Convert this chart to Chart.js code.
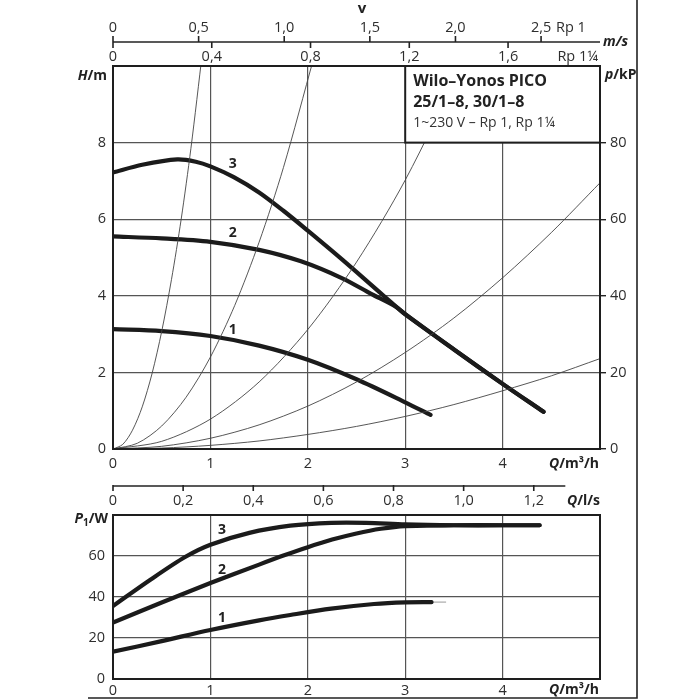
<!DOCTYPE html>
<html><head><meta charset="utf-8">
<script src="https://cdn.jsdelivr.net/npm/chart.js@4.4.1/dist/chart.umd.min.js"></script>
<style>
html,body{margin:0;padding:0;background:#fff;}
#wrap{position:relative;width:700px;height:700px;overflow:hidden;}
canvas{position:absolute;left:0;top:0;}
</style></head><body>
<div id="wrap"><canvas id="top" width="700" height="700"></canvas><canvas id="bot" width="700" height="700"></canvas></div>
<script>
// ---------- tick labels ----------
const qTicks = [0, 1, 2, 3, 4];            // Q / m3/h
const hTicks = [0, 2, 4, 6, 8];            // H / m
const pTicks = [0, 20, 40, 60, 80];        // p / kPa
const velRp1Ticks = [0, 0.5, 1.0, 1.5, 2.0, 2.5];   // v / m/s, Rp 1
const velRp114Ticks = [0, 0.4, 0.8, 1.2, 1.6];      // v / m/s, Rp 1 1/4
const qLsTicks = [0, 0.2, 0.4, 0.6, 0.8, 1.0, 1.2]; // Q / l/s
const p1Ticks = [0, 20, 40, 60];           // P1 / W

// unit conversions (m3/h per unit)
const m3hPerMsRp1 = 1.758;
const m3hPerMsRp114 = 2.535;
const m3hPerLs = 3.6;

// ---------- pump curves H(Q) ----------
const h3Q = [0, 0.3, 0.66, 0.85, 1.0, 1.24, 1.5, 1.75, 2.0, 2.36, 2.77, 3.0, 3.5, 4.0, 4.42];
const h3H = [7.22, 7.42, 7.56, 7.50, 7.38, 7.10, 6.70, 6.22, 5.70, 4.93, 4.02, 3.52, 2.60, 1.70, 0.97];
const h2Q = [0, 0.5, 1.0, 1.5, 1.93, 2.36, 2.65, 2.9, 3.0, 3.5, 4.0, 4.42];
const h2H = [5.55, 5.50, 5.41, 5.20, 4.90, 4.45, 4.05, 3.72, 3.52, 2.60, 1.70, 0.97];
const h1Q = [0, 0.5, 1.0, 1.5, 2.0, 2.5, 3.0, 3.26];
const h1H = [3.13, 3.08, 2.95, 2.70, 2.33, 1.82, 1.22, 0.89];

// ---------- system curves ----------
const sysAQ = [0, 0.1, 0.2, 0.3, 0.4, 0.5, 0.6, 0.7, 0.8, 0.92];
const sysAH = [0, 0.12, 0.49, 1.1, 1.96, 3.07, 4.42, 6.0, 7.85, 10.4];
const sysBQ = [0, 0.25, 0.5, 0.75, 1.0, 1.25, 1.5, 1.75, 2.06];
const sysBH = [0, 0.15, 0.6, 1.35, 2.4, 3.75, 5.4, 7.35, 10.2];
const sysCQ = [0, 0.5, 1, 1.5, 2, 2.5, 3, 3.6];
const sysCH = [0, 0.2, 0.78, 1.75, 3.12, 4.88, 7.02, 10.1];
const sysDQ = [0, 0.5, 1, 1.5, 2, 2.5, 3, 3.5, 4, 4.5, 5];
const sysDH = [0, 0.07, 0.28, 0.63, 1.12, 1.75, 2.52, 3.42, 4.47, 5.65, 6.95];
const sysEQ = [0, 0.5, 1, 1.5, 2, 2.5, 3, 3.5, 4, 4.5, 5];
const sysEH = [0, 0.024, 0.095, 0.21, 0.38, 0.59, 0.85, 1.16, 1.52, 1.91, 2.36];

// ---------- power curves P1(Q) ----------
const p3Q = [0, 0.38, 0.74, 1.0, 1.4, 1.82, 2.24, 2.6, 3.0, 3.5, 4.0, 4.38];
const p3P = [35.6, 48.3, 59.5, 65.5, 71.3, 74.8, 76.2, 76.2, 75.4, 75, 75, 75];
const p2Q = [0, 0.5, 1.0, 1.5, 1.75, 2.0, 2.25, 2.5, 2.75, 3.0, 3.5, 4.0, 4.38];
const p2P = [27.5, 37.3, 46.8, 55.8, 60.2, 64.3, 68.0, 71.0, 73.3, 74.6, 75, 75, 75];
const p1Q = [0, 0.5, 1.0, 1.5, 1.82, 2.24, 2.68, 3.0, 3.27];
const p1P = [13.3, 18.5, 23.9, 28.6, 31.2, 34.3, 36.6, 37.4, 37.5];
const p1ExtQ = [3.27, 3.42];
const p1ExtP = [37.5, 37.5];

// curve number labels [Q, value]
const hLabels = [['3', 1.23, 7.45], ['2', 1.23, 5.64], ['1', 1.23, 3.10]];
const pLabels = [['3', 1.12, 72.7], ['2', 1.12, 53.2], ['1', 1.12, 29.6]];

const legendLines = ['Wilo–Yonos PICO', '25/1–8, 30/1–8', '1~230 V – Rp 1, Rp 1¼'];

// ---------- helpers ----------
const FF = "'Open Sans', 'Noto Sans', sans-serif";
const TXT = '#2e2e2e';
const FS = 14.5;
const pts = (xs, ys) => xs.map((x, i) => ({x: x, y: ys[i]}));
const fmt1 = v => v === 0 ? '0' : v.toFixed(1).replace('.', ',');
function thick(data) {
  return {data, borderColor: '#1b1b1b', borderWidth: 4.2, pointRadius: 0, fill: false,
    tension: 0.3, borderCapStyle: 'round', borderJoinStyle: 'round'};
}
function thin(data) {
  return {data, borderColor: '#444', borderWidth: 0.9, pointRadius: 0, fill: false,
    tension: 0.3};
}
function drawParts(ctx, x, y, parts, align) {
  let w = 0;
  parts.forEach(p => { ctx.font = p.f; w += ctx.measureText(p.t).width; });
  let cx = align === 'right' ? x - w : (align === 'center' ? x - w / 2 : x);
  ctx.textAlign = 'left';
  parts.forEach(p => {
    ctx.font = p.f; ctx.textBaseline = 'middle';
    ctx.fillText(p.t, cx, y + (p.dy || 0));
    cx += ctx.measureText(p.t).width;
  });
}
function frameRect(ctx, a) {
  ctx.save(); ctx.strokeStyle = '#1e1e1e'; ctx.lineWidth = 2;
  ctx.strokeRect(a.left, a.top, a.right - a.left, a.bottom - a.top);
  ctx.restore();
}
const fixTicks = arr => (s => { s.ticks = arr.map(v => ({value: v})); });
const gridOpt = {color: '#555', lineWidth: 1.2, drawTicks: false};

// ---------- top chart ----------
const topPlugin = {
  id: 'topExtras',
  afterDatasetsDraw(chart) {
    const ctx = chart.ctx, x = chart.scales.x, y = chart.scales.y;
    const bx = x.getPixelForValue(3), by = y.getPixelForValue(10);
    const bw = x.getPixelForValue(5) - bx, bh = y.getPixelForValue(8) - by;
    ctx.save();
    ctx.fillStyle = '#fff'; ctx.fillRect(bx, by, bw, bh);
    ctx.strokeStyle = '#1e1e1e'; ctx.lineWidth = 2; ctx.strokeRect(bx, by, bw, bh);
    ctx.fillStyle = '#222'; ctx.textAlign = 'left'; ctx.textBaseline = 'middle';
    ctx.font = 'bold 16px ' + FF; ctx.fillText(legendLines[0], bx + 8, by + 15);
    ctx.fillText(legendLines[1], bx + 8, by + 36);
    ctx.font = '14px ' + FF; ctx.fillStyle = '#333'; ctx.fillText(legendLines[2], bx + 8, by + 57);
    ctx.restore();
  },
  afterDraw(chart) {
    const ctx = chart.ctx, x = chart.scales.x, y = chart.scales.y, a = chart.chartArea;
    frameRect(ctx, a);
    ctx.save();
    ctx.fillStyle = '#222';
    ctx.font = 'bold 14px ' + FF; ctx.textAlign = 'center'; ctx.textBaseline = 'middle';
    hLabels.forEach(l => ctx.fillText(l[0], x.getPixelForValue(l[1]), y.getPixelForValue(l[2])));
    drawParts(ctx, a.left - 6, 76, [{t: 'H', f: 'italic bold 14px ' + FF}, {t: '/m', f: 'bold 14px ' + FF}], 'right');
    drawParts(ctx, a.right - 1, 464, [{t: 'Q', f: 'italic bold 14px ' + FF}, {t: '/m³/h', f: 'bold 14px ' + FF}], 'right');
    ctx.save();
    ctx.beginPath(); ctx.rect(0, 0, 636, 700); ctx.clip();
    drawParts(ctx, a.right + 5, 75, [{t: 'p', f: 'italic bold 14px ' + FF}, {t: '/kPa', f: 'bold 14px ' + FF}], 'left');
    drawParts(ctx, a.right + 3, 42, [{t: 'm/s', f: 'italic bold 14px ' + FF}], 'left');
    ctx.restore();
    const ly = 42;
    ctx.strokeStyle = '#222'; ctx.lineWidth = 1.6;
    ctx.beginPath(); ctx.moveTo(a.left, ly); ctx.lineTo(a.right, ly); ctx.stroke();
    ctx.fillStyle = TXT; ctx.font = FS + 'px ' + FF; ctx.textAlign = 'center'; ctx.textBaseline = 'middle';
    velRp1Ticks.forEach(v => {
      const px = x.getPixelForValue(v * m3hPerMsRp1);
      ctx.beginPath(); ctx.moveTo(px, ly); ctx.lineTo(px, ly - 6); ctx.stroke();
      ctx.fillText(fmt1(v), px, 28);
    });
    velRp114Ticks.forEach(v => {
      const px = x.getPixelForValue(v * m3hPerMsRp114);
      ctx.beginPath(); ctx.moveTo(px, ly); ctx.lineTo(px, ly + 6); ctx.stroke();
      ctx.fillText(fmt1(v), px, 57);
    });
    ctx.textAlign = 'left';
    ctx.fillText('Rp 1', 556, 28);
    ctx.textAlign = 'right';
    ctx.fillText('Rp 1¼', a.right - 2, 57);
    ctx.fillStyle = '#222'; ctx.textAlign = 'center'; ctx.font = 'bold 15px ' + FF;
    ctx.fillText('v', 362, 9);
    ctx.strokeStyle = '#222'; ctx.lineWidth = 1.6;
    ctx.beginPath(); ctx.moveTo(637, 0); ctx.lineTo(637, 698); ctx.lineTo(88, 698); ctx.stroke();
    ctx.restore();
  }
};

new Chart(document.getElementById('top'), {
  type: 'line',
  data: {datasets: [
    thin(pts(sysAQ, sysAH)), thin(pts(sysBQ, sysBH)), thin(pts(sysCQ, sysCH)),
    thin(pts(sysDQ, sysDH)), thin(pts(sysEQ, sysEH)),
    thick(pts(h1Q, h1H)), thick(pts(h2Q, h2H)), thick(pts(h3Q, h3H))
  ]},
  options: {
    responsive: false, animation: false, devicePixelRatio: 1,
    layout: {padding: {top: 66, left: 0, right: 0, bottom: 0}},
    plugins: {legend: {display: false}, tooltip: {enabled: false}},
    scales: {
      x: {type: 'linear', position: 'bottom', min: 0, max: 5,
        afterBuildTicks: fixTicks(qTicks),
        ticks: {color: TXT, font: {family: FF, size: FS}, padding: 6, maxRotation: 0, autoSkip: false},
        grid: gridOpt, border: {display: false},
        afterFit: s => { s.height = 700 - 449; }},
      y: {type: 'linear', position: 'left', min: 0, max: 10,
        afterBuildTicks: fixTicks(hTicks),
        ticks: {color: TXT, font: {family: FF, size: FS}, padding: 7},
        grid: gridOpt, border: {display: false},
        afterFit: s => { s.width = 113; }},
      y2: {type: 'linear', position: 'right', min: 0, max: 100,
        afterBuildTicks: fixTicks(pTicks),
        ticks: {color: TXT, font: {family: FF, size: FS}, padding: 4},
        grid: {drawOnChartArea: false, drawTicks: true, tickLength: 6, color: '#222', lineWidth: 1.4},
        border: {display: false},
        afterFit: s => { s.width = 100; }}
    }
  },
  plugins: [topPlugin]
});

// ---------- bottom chart ----------
const botPlugin = {
  id: 'botExtras',
  afterDraw(chart) {
    const ctx = chart.ctx, x = chart.scales.x, y = chart.scales.y, a = chart.chartArea;
    frameRect(ctx, a);
    ctx.save();
    ctx.fillStyle = '#222';
    ctx.font = 'bold 14px ' + FF; ctx.textAlign = 'center'; ctx.textBaseline = 'middle';
    pLabels.forEach(l => ctx.fillText(l[0], x.getPixelForValue(l[1]), y.getPixelForValue(l[2])));
    drawParts(ctx, a.left - 5, 519, [
      {t: 'P', f: 'italic bold 14px ' + FF}, {t: '1', f: 'bold 10px ' + FF, dy: 4}, {t: '/W', f: 'bold 14px ' + FF}], 'right');
    drawParts(ctx, a.right - 1, 690, [{t: 'Q', f: 'italic bold 14px ' + FF}, {t: '/m³/h', f: 'bold 14px ' + FF}], 'right');
    const ly = 486;
    ctx.strokeStyle = '#222'; ctx.lineWidth = 1.6;
    ctx.beginPath(); ctx.moveTo(a.left, ly); ctx.lineTo(x.getPixelForValue(1.29 * m3hPerLs), ly); ctx.stroke();
    ctx.fillStyle = TXT; ctx.font = FS + 'px ' + FF;
    qLsTicks.forEach(v => {
      const px = x.getPixelForValue(v * m3hPerLs);
      ctx.beginPath(); ctx.moveTo(px, ly - 1); ctx.lineTo(px, ly + 5); ctx.stroke();
      ctx.textAlign = 'center';
      ctx.fillText(fmt1(v), px, 501);
    });
    ctx.fillStyle = '#222';
    drawParts(ctx, a.right, 501, [{t: 'Q', f: 'italic bold 14px ' + FF}, {t: '/l/s', f: 'bold 14px ' + FF}], 'right');
    ctx.restore();
  }
};

new Chart(document.getElementById('bot'), {
  type: 'line',
  data: {datasets: [
    thick(pts(p1Q, p1P)), thick(pts(p2Q, p2P)), thick(pts(p3Q, p3P)),
    {data: pts(p1ExtQ, p1ExtP), borderColor: '#bbb', borderWidth: 1.5, pointRadius: 0}
  ]},
  options: {
    responsive: false, animation: false, devicePixelRatio: 1,
    layout: {padding: {top: 515, left: 0, right: 100, bottom: 0}},
    plugins: {legend: {display: false}, tooltip: {enabled: false}},
    scales: {
      x: {type: 'linear', position: 'bottom', min: 0, max: 5,
        afterBuildTicks: fixTicks(qTicks),
        ticks: {color: TXT, font: {family: FF, size: FS}, padding: 3, maxRotation: 0, autoSkip: false},
        grid: gridOpt, border: {display: false},
        afterFit: s => { s.height = 700 - 679; }},
      y: {type: 'linear', position: 'left', min: 0, max: 80,
        afterBuildTicks: fixTicks(p1Ticks),
        ticks: {color: TXT, font: {family: FF, size: FS}, padding: 8},
        grid: gridOpt, border: {display: false},
        afterFit: s => { s.width = 113; }}
    }
  },
  plugins: [botPlugin]
});
</script>
</body></html>
